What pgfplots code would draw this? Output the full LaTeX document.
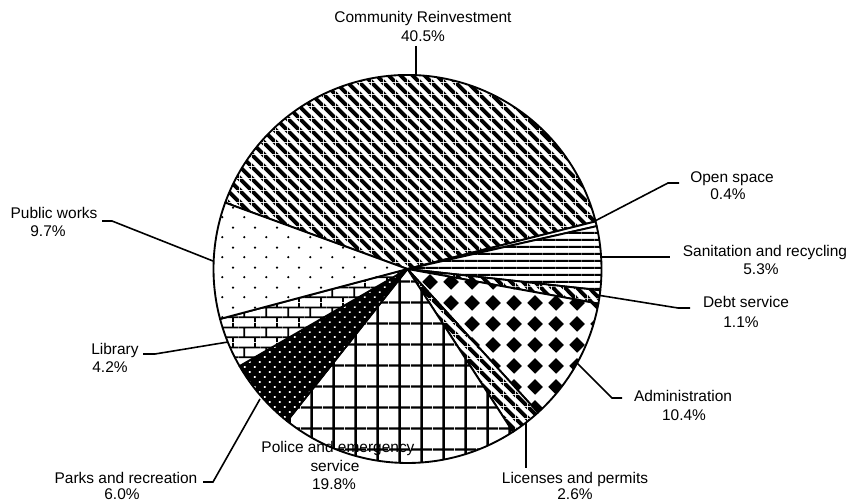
\documentclass[border=0pt]{standalone}
\usepackage{pgfplots}
\pgfplotsset{compat=1.18}
\usepackage{pgfplotstable}
\usetikzlibrary{patterns,patterns.meta}
\usepackage{fontspec}
\setmainfont{Liberation Sans}

\pgfdeclarepatternformonly{mybrickpat}{\pgfpointorigin}{\pgfqpoint{16.3pt}{15pt}}{\pgfqpoint{16.3pt}{15pt}}{%
 \pgfsetlinewidth{1.4pt}%
 \pgfpathmoveto{\pgfqpoint{0pt}{3.75pt}}\pgfpathlineto{\pgfqpoint{16.3pt}{3.75pt}}%
 \pgfpathmoveto{\pgfqpoint{0pt}{11.25pt}}\pgfpathlineto{\pgfqpoint{16.3pt}{11.25pt}}%
 \pgfpathmoveto{\pgfqpoint{4pt}{3.75pt}}\pgfpathlineto{\pgfqpoint{4pt}{11.25pt}}%
 \pgfpathmoveto{\pgfqpoint{12.15pt}{11.25pt}}\pgfpathlineto{\pgfqpoint{12.15pt}{15pt}}%
 \pgfpathmoveto{\pgfqpoint{12.15pt}{0pt}}\pgfpathlineto{\pgfqpoint{12.15pt}{3.75pt}}%
 \pgfusepath{stroke}}
\pgfdeclarepatternformonly{mysparsedotpat}{\pgfpointorigin}{\pgfqpoint{16.3pt}{15pt}}{\pgfqpoint{16.3pt}{15pt}}{%
 \pgfpathcircle{\pgfqpoint{4pt}{3.75pt}}{0.95pt}%
 \pgfpathcircle{\pgfqpoint{12.15pt}{11.25pt}}{0.95pt}%
 \pgfusepath{fill}}
\pgfdeclarepatternformonly{mydiamondpat}{\pgfpointorigin}{\pgfqpoint{15.75pt}{15.75pt}}{\pgfqpoint{15.75pt}{15.75pt}}{%
 \pgfpathmoveto{\pgfqpoint{7.875pt}{1.8pt}}%
 \pgfpathlineto{\pgfqpoint{13.95pt}{7.875pt}}%
 \pgfpathlineto{\pgfqpoint{7.875pt}{13.95pt}}%
 \pgfpathlineto{\pgfqpoint{1.8pt}{7.875pt}}%
 \pgfpathclose\pgfusepath{fill}}
\pgfdeclarepatternformonly{mygridpat}{\pgfpointorigin}{\pgfqpoint{16.1pt}{16.1pt}}{\pgfqpoint{16.1pt}{16.1pt}}{%
 \pgfsetlinewidth{1.9pt}%
 \pgfpathmoveto{\pgfqpoint{8.05pt}{0pt}}\pgfpathlineto{\pgfqpoint{8.05pt}{16.1pt}}%
 \pgfpathmoveto{\pgfqpoint{0pt}{8.05pt}}\pgfpathlineto{\pgfqpoint{16.1pt}{8.05pt}}%
 \pgfusepath{stroke}}
\pgfdeclarepatternformonly{myhlinepat}{\pgfpointorigin}{\pgfqpoint{10pt}{5.25pt}}{\pgfqpoint{10pt}{5.25pt}}{%
 \pgfpathrectangle{\pgfqpoint{0pt}{1.7pt}}{\pgfqpoint{10pt}{1.85pt}}%
 \pgfusepath{fill}}
% diagonal "\" stripes, horizontal period 9pt, horizontal half width 2.2pt
\pgfdeclarepatternformonly{mystripepat}{\pgfpointorigin}{\pgfqpoint{9pt}{9pt}}{\pgfqpoint{9pt}{9pt}}{%
 \pgfpathmoveto{\pgfqpoint{0pt}{6.8pt}}%
 \pgfpathlineto{\pgfqpoint{6.8pt}{0pt}}%
 \pgfpathlineto{\pgfqpoint{9pt}{0pt}}%
 \pgfpathlineto{\pgfqpoint{9pt}{2.2pt}}%
 \pgfpathlineto{\pgfqpoint{2.2pt}{9pt}}%
 \pgfpathlineto{\pgfqpoint{0pt}{9pt}}%
 \pgfpathclose
 \pgfpathmoveto{\pgfqpoint{0pt}{0pt}}%
 \pgfpathlineto{\pgfqpoint{2.2pt}{0pt}}%
 \pgfpathlineto{\pgfqpoint{0pt}{2.2pt}}%
 \pgfpathclose
 \pgfpathmoveto{\pgfqpoint{9pt}{6.8pt}}%
 \pgfpathlineto{\pgfqpoint{9pt}{9pt}}%
 \pgfpathlineto{\pgfqpoint{6.8pt}{9pt}}%
 \pgfpathclose
 \pgfusepath{fill}}

\tikzset{
 pieline/.style={draw=black, line width=1.4pt, line join=round},
 slice0/.style={pieline, preaction={fill=white}, pattern=mystripepat},
 slice1/.style={pieline, fill=white},
 slice2/.style={pieline, preaction={fill=white}, pattern=myhlinepat},
 slice3/.style={pieline, preaction={fill=white}, pattern=mystripepat},
 slice4/.style={pieline, preaction={fill=white}, pattern=mydiamondpat},
 slice5/.style={pieline, preaction={fill=white}, pattern=mystripepat},
 slice6/.style={pieline, preaction={fill=white}, pattern=mygridpat},
 slice7/.style={pieline, preaction={fill=black}, pattern={Dots[angle=45,distance=5.3pt,radius=0.9pt]}, pattern color=white},
 slice8/.style={pieline, preaction={fill=white}, pattern=mybrickpat},
 slice9/.style={pieline, preaction={fill=white}, pattern=mysparsedotpat},
 lead/.style={draw=black, line width=1.2pt},
 lbl/.style={anchor=base, inner sep=0pt, font=\fontsize{11.6}{14}\selectfont},
}

\pgfplotstableread[col sep=comma]{
name,value
Community Reinvestment,40.5
Open space,0.4
Sanitation and recycling,5.3
Debt service,1.1
Administration,10.4
Licenses and permits,2.6
Police and emergency service,19.8
Parks and recreation,6.0
Library,4.2
Public works,9.7
}\piedata

\begin{document}
\begin{tikzpicture}
\xdef\curangle{160}
\gdef\piecmds{}
\foreach \i in {0,...,9} {
  \pgfplotstablegetelem{\i}{value}\of\piedata
  \pgfmathsetmacro\endangle{\curangle-3.6*\pgfplotsretval}
  \xdef\piecmds{\unexpanded\expandafter{\piecmds}\noexpand\path[slice\i] (axis cs:407.5,269) -- ++(\curangle:145.5pt) arc[start angle=\curangle, end angle=\endangle, radius=145.5pt] -- cycle;}
  \xdef\curangle{\endangle}
}
\begin{axis}[x=0.75pt, y=0.75pt, xmin=0, xmax=846, ymin=0, ymax=502,
  y dir=reverse, hide axis, clip=false, scale only axis]
\coordinate (bl) at (axis cs:0,502);
\coordinate (tr) at (axis cs:846,0);
\piecmds
% leader lines
\draw[lead] (axis cs:416,46) -- (axis cs:416,76);
\draw[lead] (axis cs:593,222) -- (axis cs:668,183) -- (axis cs:679,183);
\draw[lead] (axis cs:600,257) -- (axis cs:670,257);
\draw[lead] (axis cs:597,295) -- (axis cs:678,308) -- (axis cs:690,308);
\draw[lead] (axis cs:577,363) -- (axis cs:612,398) -- (axis cs:622,398);
\draw[lead] (axis cs:526,423) -- (axis cs:526,468);
\draw[lead] (axis cs:260,399) -- (axis cs:213,482) -- (axis cs:203,482);
\draw[lead] (axis cs:228,342) -- (axis cs:155,354) -- (axis cs:143,354);
\draw[lead] (axis cs:213,261) -- (axis cs:112,221) -- (axis cs:102,221);
% labels
\node[lbl] at (axis cs:423,23) {Community Reinvestment};
\node[lbl] at (axis cs:423,42) {40.5\%};
\node[lbl] at (axis cs:732,183) {Open space};
\node[lbl] at (axis cs:728,200) {0.4\%};
\node[lbl] at (axis cs:765,257) {Sanitation and recycling};
\node[lbl] at (axis cs:761,275) {5.3\%};
\node[lbl] at (axis cs:746,308) {Debt service};
\node[lbl] at (axis cs:741,327) {1.1\%};
\node[lbl] at (axis cs:683,401) {Administration};
\node[lbl] at (axis cs:684,420) {10.4\%};
\node[lbl] at (axis cs:575,483) {Licenses and permits};
\node[lbl] at (axis cs:575,499) {2.6\%};
\node[lbl] at (axis cs:338,452) {Police and emergency};
\node[lbl] at (axis cs:335,471) {service};
\node[lbl] at (axis cs:334,489) {19.8\%};
\node[lbl] at (axis cs:126,483) {Parks and recreation};
\node[lbl] at (axis cs:122,499) {6.0\%};
\node[lbl] at (axis cs:115,354) {Library};
\node[lbl] at (axis cs:110,373) {4.2\%};
\node[lbl] at (axis cs:54,219) {Public works};
\node[lbl] at (axis cs:48,237) {9.7\%};
\end{axis}
\pgfresetboundingbox
\path (bl) rectangle (tr);
\end{tikzpicture}
\end{document}
